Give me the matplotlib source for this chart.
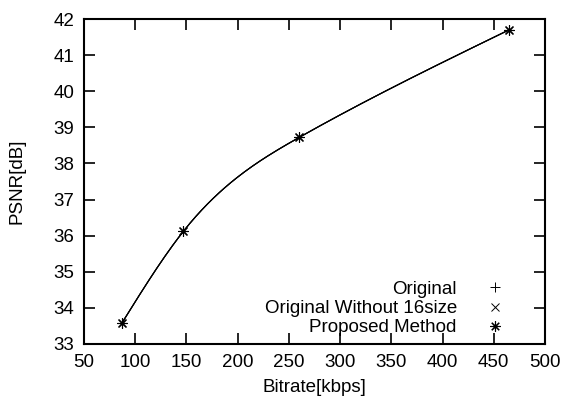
import matplotlib
matplotlib.use('Agg')
import matplotlib.pyplot as plt
import numpy as np

plt.rcParams['font.family'] = ['Liberation Sans', 'DejaVu Sans']

bitrate = [87, 147, 260, 465]
psnr_original = [33.58, 36.12, 38.72, 41.70]
psnr_without16 = [33.58, 36.12, 38.72, 41.70]
psnr_proposed = [33.58, 36.12, 38.72, 41.70]
labels = ['Original', 'Original Without 16size', 'Proposed Method']


def natural_spline(x, y, n=200):
    # natural cubic spline like gnuplot "smooth csplines"
    x = np.asarray(x, float)
    y = np.asarray(y, float)
    k = len(x)
    h = np.diff(x)
    A = np.zeros((k, k))
    b = np.zeros(k)
    A[0, 0] = A[-1, -1] = 1
    for i in range(1, k - 1):
        A[i, i - 1] = h[i - 1]
        A[i, i] = 2 * (h[i - 1] + h[i])
        A[i, i + 1] = h[i]
        b[i] = 6 * ((y[i + 1] - y[i]) / h[i] - (y[i] - y[i - 1]) / h[i - 1])
    M = np.linalg.solve(A, b)
    xs = np.linspace(x[0], x[-1], n)
    idx = np.clip(np.searchsorted(x, xs) - 1, 0, k - 2)
    x0, x1 = x[idx], x[idx + 1]
    hh = x1 - x0
    t0 = x1 - xs
    t1 = xs - x0
    ys = (M[idx] * t0 ** 3 + M[idx + 1] * t1 ** 3) / (6 * hh) \
        + (y[idx] / hh - M[idx] * hh / 6) * t0 \
        + (y[idx + 1] / hh - M[idx + 1] * hh / 6) * t1
    return xs, ys


fig = plt.figure(figsize=(5.64, 3.99), dpi=100)
ax = fig.add_axes([84 / 564, 1 - 344 / 399, 461 / 564, 325 / 399])

for ys in (psnr_original, psnr_without16, psnr_proposed):
    sx, sy = natural_spline(bitrate, ys)
    ax.plot(sx, sy, color='black', lw=0.8)

ax.plot(bitrate, psnr_original, ls='none', marker='+', ms=7, mew=0.7,
        color='black', label=labels[0])
ax.plot(bitrate, psnr_without16, ls='none', marker='x', ms=5.5, mew=0.7,
        color='black', label=labels[1])
ax.plot(bitrate, psnr_proposed, ls='none', marker=(8, 2, 0), ms=7.5, mew=0.8,
        color='black', label=labels[2])

ax.set_xlim(50, 500)
ax.set_ylim(33, 42)
ax.set_xticks(np.arange(50, 501, 50))
ax.set_yticks(np.arange(33, 43, 1))
ax.tick_params(direction='in', top=True, right=True, length=8, width=1.2,
               labelsize=13.5)
ax.tick_params(axis='x', pad=7)
ax.tick_params(axis='y', pad=7)
for s in ax.spines.values():
    s.set_linewidth(1.5)

ax.set_xlabel('Bitrate[kbps]', fontsize=13.5, labelpad=6)
ax.set_ylabel('PSNR[dB]', fontsize=13.5, labelpad=20)

ax.legend(loc='lower right', frameon=False, markerfirst=False, fontsize=13.5,
          handlelength=1.5, handletextpad=1.28, labelspacing=0.12,
          borderaxespad=0.0, bbox_to_anchor=(0.938, 0.0))

fig.savefig('out.png', dpi=100)
